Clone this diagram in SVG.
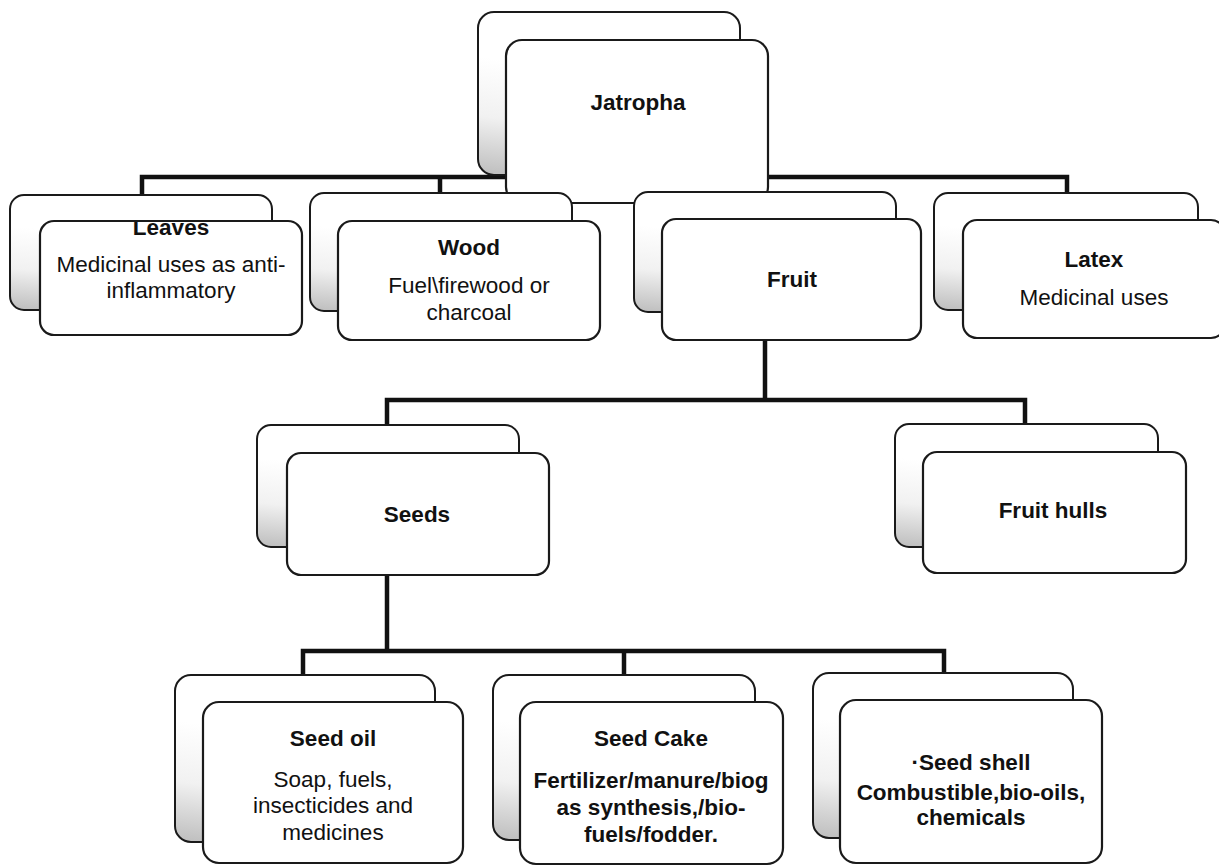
<svg xmlns="http://www.w3.org/2000/svg" width="1219" height="866" viewBox="0 0 1219 866">
<defs>
<linearGradient id="shade" x1="0" y1="1" x2="0.14" y2="0.3">
<stop offset="0" stop-color="#bdbdbd"/>
<stop offset="0.5" stop-color="#f1f1f1"/>
<stop offset="1" stop-color="#ffffff"/>
</linearGradient>
<clipPath id="clipLeaves"><rect x="41" y="222" width="260" height="112" rx="14"/></clipPath>
</defs>
<style>
.back{fill:url(#shade);stroke:#1a1a1a;stroke-width:2}
.front{fill:#ffffff;stroke:#1a1a1a;stroke-width:2.2}
.conn{fill:none;stroke:#111;stroke-width:4.5;stroke-linejoin:miter}
text{font-family:"Liberation Sans",Arial,sans-serif;font-size:22.5px;fill:#111;text-anchor:middle}
.b{font-weight:bold}
</style>
<rect width="1219" height="866" fill="#ffffff"/>
<g id="connectors">
<path class="conn" d="M142,196 V177 H1067 V194"/>
<path class="conn" d="M440,177 V194"/>
<path class="conn" d="M765,340 V400"/>
<path class="conn" d="M387,426 V400 H1025 V425"/>
<path class="conn" d="M387,575 V651"/>
<path class="conn" d="M303,676 V651 H944 V674"/>
<path class="conn" d="M624,651 V676"/>
</g>
<g id="node-jatropha">
<rect class="back" x="478" y="12" width="262" height="163" rx="16"/>
<rect class="front" x="506" y="40" width="262" height="163" rx="16"/>
<text class="b" x="638" y="110">Jatropha</text>
</g>
<g id="node-leaves">
<rect class="back" x="10" y="195" width="262" height="115" rx="14"/>
<rect class="front" x="40" y="221" width="262" height="114" rx="14"/>
<text class="b" x="171" y="235" clip-path="url(#clipLeaves)">Leaves</text>
<text x="171" y="272">Medicinal uses as anti-</text>
<text x="171" y="298">inflammatory</text>
</g>
<g id="node-wood">
<rect class="back" x="310" y="193" width="262" height="118" rx="14"/>
<rect class="front" x="338" y="221" width="262" height="119" rx="14"/>
<text class="b" x="469" y="255">Wood</text>
<text x="469" y="293">Fuel\firewood or</text>
<text x="469" y="320">charcoal</text>
</g>
<g id="node-fruit">
<rect class="back" x="634" y="192" width="262" height="120" rx="14"/>
<rect class="front" x="662" y="219" width="259" height="121" rx="14"/>
<text class="b" x="792" y="287">Fruit</text>
</g>
<g id="node-latex">
<rect class="back" x="934" y="193" width="264" height="117" rx="14"/>
<rect class="front" x="963" y="220" width="262" height="118" rx="14"/>
<text class="b" x="1094" y="267">Latex</text>
<text x="1094" y="305">Medicinal uses</text>
</g>
<g id="node-seeds">
<rect class="back" x="257" y="425" width="262" height="122" rx="14"/>
<rect class="front" x="287" y="453" width="262" height="122" rx="14"/>
<text class="b" x="417" y="522">Seeds</text>
</g>
<g id="node-fruit-hulls">
<rect class="back" x="895" y="424" width="263" height="123" rx="14"/>
<rect class="front" x="923" y="452" width="263" height="121" rx="14"/>
<text class="b" x="1053" y="518">Fruit hulls</text>
</g>
<g id="node-seed-oil">
<rect class="back" x="175" y="675" width="260" height="167" rx="16"/>
<rect class="front" x="203" y="702" width="260" height="161" rx="16"/>
<text class="b" x="333" y="746">Seed oil</text>
<text x="333" y="787">Soap, fuels,</text>
<text x="333" y="813">insecticides and</text>
<text x="333" y="840">medicines</text>
</g>
<g id="node-seed-cake">
<rect class="back" x="493" y="675" width="262" height="165" rx="16"/>
<rect class="front" x="520" y="702" width="263" height="162" rx="16"/>
<text class="b" x="651" y="746">Seed Cake</text>
<text class="b" x="651" y="788">Fertilizer/manure/biog</text>
<text class="b" x="651" y="815">as synthesis,/bio-</text>
<text class="b" x="651" y="842">fuels/fodder.</text>
</g>
<g id="node-seed-shell">
<rect class="back" x="813" y="673" width="260" height="165" rx="16"/>
<rect class="front" x="840" y="700" width="262" height="163" rx="16"/>
<text class="b" x="971" y="770">·Seed shell</text>
<text class="b" x="971" y="800">Combustible,bio-oils,</text>
<text class="b" x="971" y="825">chemicals</text>
</g>
</svg>
